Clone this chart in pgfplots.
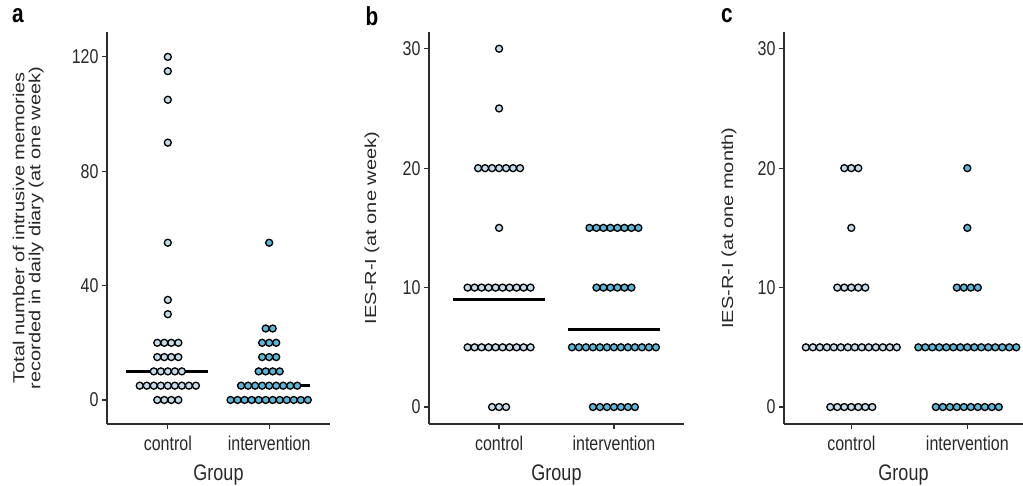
\documentclass[border=0pt]{standalone}
\usepackage{pgfplots}
\pgfplotsset{compat=1.18}
\usepackage{pgfplotstable}
\usepackage{graphicx}
\usepackage{fontspec}
\setmainfont[FakeStretch=0.8]{Liberation Sans}
\newfontfamily\ylfont{Liberation Sans}

\definecolor{ctrl}{RGB}{196,220,234}
\definecolor{intv}{RGB}{92,182,216}
\definecolor{axc}{RGB}{45,45,45}
\definecolor{txt}{RGB}{40,40,40}

% columns: k = position of the dot in its row (in dot widths), y = value
\pgfplotstableread{
k y
0 120
0 115
0 105
0 90
0 55
0 35
0 30
-1.5 20
-0.5 20
0.5 20
1.5 20
-1.5 15
-0.5 15
0.5 15
1.5 15
-2 10
-1 10
0 10
1 10
2 10
-4 5
-3 5
-2 5
-1 5
0 5
1 5
2 5
3 5
4 5
-1.5 0
-0.5 0
0.5 0
1.5 0
}\aC
\pgfplotstableread{
k y
0 55
-0.5 25
0.5 25
-1 20
0 20
1 20
-1 15
0 15
1 15
-1.5 10
-0.5 10
0.5 10
1.5 10
-4 5
-3 5
-2 5
-1 5
0 5
1 5
2 5
3 5
4 5
-5.5 0
-4.5 0
-3.5 0
-2.5 0
-1.5 0
-0.5 0
0.5 0
1.5 0
2.5 0
3.5 0
4.5 0
5.5 0
}\aI
\pgfplotstableread{
k y
0 30
0 25
-3 20
-2 20
-1 20
0 20
1 20
2 20
3 20
0 15
-4.5 10
-3.5 10
-2.5 10
-1.5 10
-0.5 10
0.5 10
1.5 10
2.5 10
3.5 10
4.5 10
-4.5 5
-3.5 5
-2.5 5
-1.5 5
-0.5 5
0.5 5
1.5 5
2.5 5
3.5 5
4.5 5
-1 0
0 0
1 0
}\bC
\pgfplotstableread{
k y
-3.5 15
-2.5 15
-1.5 15
-0.5 15
0.5 15
1.5 15
2.5 15
3.5 15
-2.5 10
-1.5 10
-0.5 10
0.5 10
1.5 10
2.5 10
-6 5
-5 5
-4 5
-3 5
-2 5
-1 5
0 5
1 5
2 5
3 5
4 5
5 5
6 5
-3 0
-2 0
-1 0
0 0
1 0
2 0
3 0
}\bI
\pgfplotstableread{
k y
-1 20
0 20
1 20
0 15
-2 10
-1 10
0 10
1 10
2 10
-6.5 5
-5.5 5
-4.5 5
-3.5 5
-2.5 5
-1.5 5
-0.5 5
0.5 5
1.5 5
2.5 5
3.5 5
4.5 5
5.5 5
6.5 5
-3 0
-2 0
-1 0
0 0
1 0
2 0
3 0
}\cC
\pgfplotstableread{
k y
0 20
0 15
-1.5 10
-0.5 10
0.5 10
1.5 10
-7 5
-6 5
-5 5
-4 5
-3 5
-2 5
-1 5
0 5
1 5
2 5
3 5
4 5
5 5
6 5
7 5
-4.5 0
-3.5 0
-2.5 0
-1.5 0
-0.5 0
0.5 0
1.5 0
2.5 0
3.5 0
4.5 0
}\cI

\pgfplotsset{
  dotaxis/.style={
    scale only axis,
    anchor=south west,
    clip=false,
    axis x line*=bottom, axis y line*=left,
    axis line style={-, line width=1.6pt, draw=axc},
    tick style={line width=1.2pt, draw=axc},
    tick align=outside, major tick length=5pt,
    xtick={1,2}, xticklabels={control,intervention},
    ticklabel style={font=\fontsize{20}{22}\selectfont, text=txt},
    xticklabel style={yshift=-3pt},
    /pgf/number format/assume math mode=true,
    xlabel={Group},
    xlabel style={font=\fontsize{22.5}{24}\selectfont, text=txt, at={(axis description cs:0.5,-0.13)}, anchor=center},
    ylabel style={font=\ylfont\fontsize{20}{22}\selectfont, text=txt, anchor=center, align=center},
  },
  cdots/.style={only marks, mark=*, mark size=3.5pt, mark options={fill=ctrl, draw=black, line width=1.3pt}},
  idots/.style={only marks, mark=*, mark size=3.5pt, mark options={fill=intv, draw=black, line width=1.3pt}},
  med/.style={no markers, line width=2.4pt, black},
}

\begin{document}
\begin{tikzpicture}
\useasboundingbox (0pt,0pt) rectangle (1023pt,486pt);

% panel a
\begin{axis}[dotaxis,
  at={(107pt,62pt)}, width=223pt, height=392pt,
  xmin=0.40, xmax=2.60, ymin=-8.4, ymax=128.7,
  ytick={0,40,80,120},
  ylabel={\scalebox{1}[0.8]{\begin{tabular}{@{}c@{}}Total number of intrusive memories\\[-2pt]recorded in daily diary (at one week)\end{tabular}}},
  ylabel style={at={(axis description cs:-0.35,0.5)}},
]
\addplot[cdots] table[x expr={1+\thisrow{k}*0.0693}, y=y] {\aC};
\addplot[idots] table[x expr={2+\thisrow{k}*0.0693}, y=y] {\aI};
\addplot[med] coordinates {(0.59,10) (1.40,10)};
\addplot[med] coordinates {(1.68,5) (2.40,5)};
\end{axis}

% panel b
\begin{axis}[dotaxis,
  at={(429pt,62pt)}, width=255pt, height=392pt,
  xmin=0.39, xmax=2.61, ymin=-1.42, ymax=31.4,
  ytick={0,10,20,30},
  ylabel={\scalebox{1}[0.8]{IES-R-I (at one week)}},
  ylabel style={at={(axis description cs:-0.224,0.5)}},
]
\addplot[cdots] table[x expr={1+\thisrow{k}*0.0609}, y=y] {\bC};
\addplot[idots] table[x expr={2+\thisrow{k}*0.0609}, y=y] {\bI};
\addplot[med] coordinates {(0.60,9) (1.40,9)};
\addplot[med] coordinates {(1.60,6.5) (2.40,6.5)};
\end{axis}

% panel c
\begin{axis}[dotaxis,
  at={(784pt,62pt)}, width=239pt, height=392pt,
  xmin=0.42, xmax=2.48, ymin=-1.42, ymax=31.4,
  ytick={0,10,20,30},
  ylabel={\scalebox{1}[0.8]{IES-R-I (at one month)}},
  ylabel style={at={(axis description cs:-0.23,0.5)}},
]
\addplot[cdots] table[x expr={1+\thisrow{k}*0.0603}, y=y] {\cC};
\addplot[idots] table[x expr={2+\thisrow{k}*0.0603}, y=y] {\cI};
\end{axis}

\node[font=\bfseries\fontsize{26}{28}\selectfont] at (18pt,470pt) {a};
\node[font=\bfseries\fontsize{26}{28}\selectfont] at (372pt,470pt) {b};
\node[font=\bfseries\fontsize{26}{28}\selectfont] at (727pt,470pt) {c};
\end{tikzpicture}
\end{document}
